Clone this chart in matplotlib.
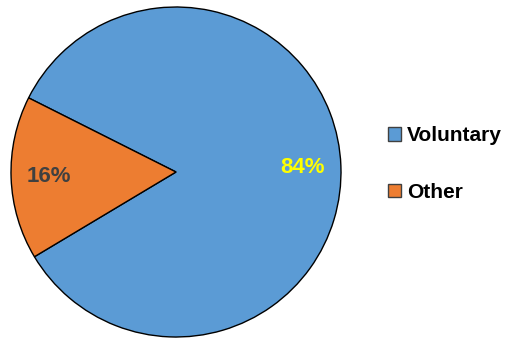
import matplotlib.pyplot as plt
from matplotlib.patches import Patch

labels = ['Voluntary', 'Other']
values = [84, 16]
colors = ['#5B9BD5', '#ED7D31']
pct_colors = ['#FFFF00', '#404040']

plt.rcParams['font.family'] = ['Liberation Sans', 'DejaVu Sans']

fig = plt.figure(figsize=(5.07, 3.39), dpi=100)
ax = fig.add_axes([11 / 507, 2 / 339, 330 / 507, 330 / 339])

wedges, texts, autotexts = ax.pie(
    values, colors=colors, startangle=210.9, counterclock=True,
    autopct='%1.0f%%', pctdistance=0.77,
    wedgeprops=dict(edgecolor='black', linewidth=1))

for t, c in zip(autotexts, pct_colors):
    t.set_color(c)
    t.set_fontsize(16)
    t.set_fontweight('bold')

ax.set_xlim(-1.0, 1.0)
ax.set_ylim(-1.0, 1.0)
ax.set_aspect('equal')

handles = [Patch(facecolor=c, edgecolor='#404040', linewidth=1) for c in colors]
fig.legend(handles, labels, loc='center left', bbox_to_anchor=(388 / 507, 0.516),
           frameon=False, borderpad=0, borderaxespad=0,
           handlelength=0.6, handleheight=0.6,
           handletextpad=0.3, labelspacing=1.8,
           prop={'weight': 'bold', 'size': 15})

fig.savefig('out.png', dpi=100)
